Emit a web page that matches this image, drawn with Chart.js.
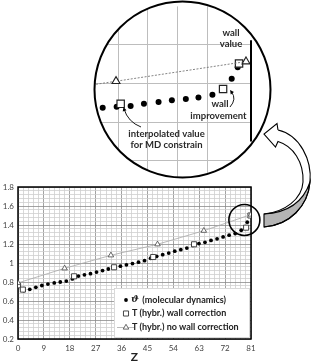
<!DOCTYPE html>
<html lang="en">
<head>
  <meta charset="UTF-8">
  <title>Temperature near the wall</title>
  <script src="https://cdn.jsdelivr.net/npm/chart.js"></script>
  <style>
    body { margin: 0; background: #fff; }
    #wrap { position: relative; width: 313px; height: 363px; }
    #wrap canvas { position: absolute; left: 0; top: 0; }
  </style>
</head>
<body>
<div id="wrap">
  <canvas id="mainChart" width="313" height="363"></canvas>
  <canvas id="insetChart" width="313" height="363"></canvas>
</div>
<script>
  // main chart data
  const mdZ = [2.0, 4.1, 6.2, 8.3, 10.4, 12.6, 14.7, 16.8, 18.9, 21.0, 23.1, 25.2, 27.3, 29.4, 31.4, 33.5, 35.6, 37.7, 39.8,
    41.9, 44.0, 46.1, 48.2, 50.3, 52.4, 54.5, 56.6, 58.7, 60.8, 62.9, 65.0, 67.1, 69.2, 71.3, 73.4, 75.5, 77.6, 79.7]
  const mdV = [0.71, 0.723, 0.744, 0.763, 0.778, 0.79, 0.80, 0.81, 0.832, 0.862, 0.876, 0.888, 0.905, 0.92, 0.937, 0.952, 0.967, 0.981, 0.994,
    1.009, 1.025, 1.05, 1.07, 1.088, 1.105, 1.125, 1.14, 1.157, 1.185, 1.205, 1.218, 1.238, 1.255, 1.275, 1.293, 1.31, 1.345, 1.43]
  const wallZ = [0, 1.7, 19.5, 33.4, 47.0, 61.2, 79.3, 80.8]
  const wallV = [0.765, 0.72, 0.86, 0.955, 1.063, 1.197, 1.372, 1.50]
  const noWallZ = [0, 16.2, 32.3, 48.5, 64.6, 81]
  const noWallV = [0.79, 0.944, 1.081, 1.197, 1.34, 1.51]
  const seriesNames = ["\u03D1 (molecular dynamics)", "T (hybr.) wall correction", "T (hybr.) no wall correction"]

  // magnified sketch near the wall
  const insetMdZ = [56.6, 58.7, 60.8, 62.9, 64.9, 67.1, 69.1, 71.2, 73.1, 75.2, 78.1, 79.0]
  const insetMdV = [1.385, 1.3875, 1.39, 1.392, 1.3975, 1.4025, 1.407, 1.41, 1.414, 1.421, 1.4625, 1.492]
  const insetWallZ = [61.4, 76.8, 79.2]
  const insetWallV = [1.3975, 1.436, 1.502]
  const insetNoWallZ = [44.7, 60.7, 80.25]
  const insetNoWallV = [1.414, 1.456, 1.507]
  const insetGridZ = [61, 65.5, 70, 74.5]
  const insetGridV = [1.25, 1.35, 1.45, 1.55]

  Chart.defaults.font.family = "Lato"

  const pairs = (xs, ys) => xs.map((x, i) => ({ x: x, y: ys[i] }))
  const isMajor = (v, step) => Math.abs(v / step - Math.round(v / step)) < 1e-6

  function arrowHead(c, x, y, ang, size) {
    c.beginPath()
    c.moveTo(x, y)
    c.lineTo(x - size * Math.cos(ang - 0.45), y - size * Math.sin(ang - 0.45))
    c.lineTo(x - size * Math.cos(ang + 0.45), y - size * Math.sin(ang + 0.45))
    c.closePath()
    c.fill()
  }

  const frameAndLegend = {
    id: "frameAndLegend",
    beforeDatasetsDraw(chart) {
      const { ctx, chartArea: a } = chart
      ctx.save()
      ctx.strokeStyle = "#000"
      ctx.lineWidth = 1.5
      ctx.strokeRect(a.left, a.top, a.right - a.left, a.bottom - a.top)
      ctx.restore()
    },
    afterDatasetsDraw(chart) {
      const { ctx, chartArea: a } = chart
      ctx.save()
      // legend box
      const bx = 114, by = 288
      ctx.fillStyle = "#fff"
      ctx.fillRect(bx, by, a.right - bx - 1, a.bottom - by - 1)
      ctx.strokeStyle = "#d0d0d0"
      ctx.lineWidth = 0.8
      ctx.strokeRect(bx + 0.5, by + 0.5, a.right - bx - 2, a.bottom - by - 2)
      const rows = [300, 313.5, 327.5]
      const mx = 126
      chart.data.datasets.forEach((ds, i) => {
        const y = rows[i]
        if (ds.showLine) {
          ctx.strokeStyle = ds.borderColor
          ctx.lineWidth = ds.borderWidth
          ctx.beginPath(); ctx.moveTo(117, y); ctx.lineTo(134, y); ctx.stroke()
        }
        ctx.fillStyle = ds.backgroundColor
        ctx.strokeStyle = ds.pointBorderColor || ds.borderColor
        ctx.lineWidth = ds.pointBorderWidth || 0
        Chart.helpers.drawPoint(ctx, {
          pointStyle: ds.pointStyle, radius: ds.pointRadius, borderWidth: ds.pointBorderWidth || 0, rotation: 0
        }, mx, y)
        ctx.fillStyle = "#222"
        ctx.textBaseline = "middle"
        if (i === 0) {
          ctx.font = "italic bold 9.5px 'DejaVu Serif'"
          const sym = ds.label.slice(0, 1)
          ctx.fillText(sym, 131, y)
          const w = ctx.measureText(sym).width
          ctx.font = "bold 9px Lato"
          ctx.fillText(ds.label.slice(1), 131 + w + 1, y)
        } else {
          ctx.font = "bold 9px Lato"
          ctx.fillText(ds.label, 132, y)
        }
      })
      ctx.restore()
    },
    afterDraw(chart) {
      const { ctx } = chart
      const xs = chart.scales.x, ys = chart.scales.y
      ctx.save()
      // circle round the wall region
      ctx.strokeStyle = "#000"
      ctx.lineWidth = 1.6
      ctx.beginPath()
      ctx.arc(xs.getPixelForValue(78.7), ys.getPixelForValue(1.453), 15.5, 0, Math.PI * 2)
      ctx.stroke()
      // big curved arrow to the magnified view
      ctx.lineWidth = 1.1
      ctx.beginPath()
      ctx.moveTo(278, 130)
      ctx.bezierCurveTo(300, 135, 312, 160, 310, 182)
      ctx.bezierCurveTo(308, 206, 290, 225, 264, 227)
      ctx.lineTo(264, 214)
      ctx.bezierCurveTo(285, 212, 302, 199, 303, 182)
      ctx.bezierCurveTo(304, 162, 293, 146, 278, 141.5)
      ctx.lineTo(275.5, 147)
      ctx.lineTo(264, 134)
      ctx.lineTo(277, 123.5)
      ctx.closePath()
      ctx.fillStyle = "#fff"
      ctx.fill()
      ctx.save()
      ctx.beginPath()
      ctx.moveTo(264, 214)
      ctx.quadraticCurveTo(300, 212, 310, 182)
      ctx.bezierCurveTo(308, 206, 290, 225, 264, 227)
      ctx.closePath()
      ctx.fillStyle = "#b4b4b4"
      ctx.fill()
      ctx.stroke()
      ctx.restore()
      ctx.beginPath()
      ctx.moveTo(278, 130)
      ctx.bezierCurveTo(300, 135, 312, 160, 310, 182)
      ctx.bezierCurveTo(308, 206, 290, 225, 264, 227)
      ctx.moveTo(264, 214)
      ctx.bezierCurveTo(285, 212, 302, 199, 303, 182)
      ctx.bezierCurveTo(304, 162, 293, 146, 278, 141.5)
      ctx.lineTo(275.5, 147)
      ctx.lineTo(264, 134)
      ctx.lineTo(277, 123.5)
      ctx.lineTo(278, 130)
      ctx.stroke()
      ctx.restore()
    }
  }

  const mainChart = new Chart(document.getElementById("mainChart"), {
    type: "scatter",
    data: {
      datasets: [{
        label: seriesNames[0],
        data: pairs(mdZ, mdV),
        pointStyle: "circle",
        pointRadius: 1.9,
        backgroundColor: "#000",
        borderColor: "#000",
        pointBorderWidth: 0,
        borderWidth: 0,
        order: 3
      }, {
        label: seriesNames[1],
        data: pairs(wallZ, wallV),
        pointStyle: "rect",
        pointRadius: 3.6,
        backgroundColor: "#fff",
        borderColor: "#333",
        pointBorderWidth: 0.9,
        order: 2
      }, {
        label: seriesNames[2],
        data: pairs(noWallZ, noWallV),
        showLine: true,
        pointStyle: "triangle",
        pointRadius: 3.2,
        backgroundColor: "#fff",
        borderColor: "#a8a8a8",
        borderWidth: 0.8,
        pointBorderColor: "#444",
        pointBorderWidth: 0.8,
        order: 1
      }]
    },
    options: {
      responsive: false,
      animation: false,
      devicePixelRatio: 1,
      layout: { padding: { top: 187, right: 62, left: 0, bottom: 0 } },
      plugins: { legend: { display: false }, tooltip: { enabled: false } },
      scales: {
        x: {
          type: "linear",
          min: 0,
          max: 81,
          afterFit: (s) => { s.height = 24 },
          ticks: {
            stepSize: 1.8,
            autoSkip: false,
            maxRotation: 0,
            padding: 5,
            color: "#444",
            font: { size: 8 },
            callback: (v) => isMajor(v, 9) ? String(Math.round(v)) : ""
          },
          grid: {
            drawTicks: false,
            lineWidth: 0.8,
            color: (c) => c.tick && isMajor(c.tick.value, 9) ? "#8c8c8c" : "#cfcfcf"
          },
          border: { display: false },
          title: { display: true, text: "Z", color: "#222", padding: 0, font: { size: 12, weight: "bold", lineHeight: 1 } }
        },
        y: {
          min: 0.2,
          max: 1.8,
          afterFit: (s) => { s.width = 18 },
          ticks: {
            stepSize: 0.04,
            autoSkip: false,
            padding: 4,
            color: "#444",
            font: { size: 8 },
            callback: (v) => isMajor(v, 0.2) ? String(Number(v.toFixed(1))) : ""
          },
          grid: {
            drawTicks: false,
            lineWidth: 0.8,
            color: (c) => c.tick && isMajor(c.tick.value, 0.2) ? "#8c8c8c" : "#cfcfcf"
          },
          border: { display: false }
        }
      }
    },
    plugins: [frameAndLegend]
  })

  // magnified view, clipped to a circle
  const circ = { x: 182.5, y: 89.5, r: 88 }
  const circleClip = {
    id: "circleClip",
    beforeDraw(chart) {
      const c = chart.ctx
      c.save()
      c.beginPath()
      c.arc(circ.x, circ.y, circ.r, 0, Math.PI * 2)
      c.fillStyle = "#fff"
      c.fill()
      c.clip()
    },
    afterDraw(chart) {
      const c = chart.ctx
      const xs = chart.scales.x, ys = chart.scales.y
      c.restore()
      c.save()
      // wall
      c.strokeStyle = "#000"
      c.lineWidth = 2
      const wx = xs.getPixelForValue(81)
      c.beginPath()
      c.moveTo(wx, ys.getPixelForValue(1.5625))
      c.lineTo(wx, ys.getPixelForValue(1.30))
      c.stroke()
      // circle outline
      c.lineWidth = 2
      c.beginPath()
      c.arc(circ.x, circ.y, circ.r, 0, Math.PI * 2)
      c.stroke()
      // notes
      c.fillStyle = "#2a2a2a"
      c.font = "bold 9.5px Lato"
      c.textAlign = "center"
      c.textBaseline = "middle"
      c.fillText("wall", 231, 32.5)
      c.fillText("value", 231, 43.5)
      c.fillText("wall", 220, 103.5)
      c.fillText("improvement", 218.5, 115.5)
      c.fillText("interpolated value", 166.5, 133.5)
      c.fillText("for MD constrain", 166.5, 145)
      // pointers
      c.lineWidth = 0.9
      c.fillStyle = "#000"
      c.beginPath()
      c.moveTo(141, 127)
      c.quadraticCurveTo(128, 122, 124, 109)
      c.stroke()
      arrowHead(c, 123.5, 107, -1.85, 4.5)
      c.beginPath()
      c.moveTo(230, 107)
      c.quadraticCurveTo(237, 99, 231.5, 92)
      c.stroke()
      arrowHead(c, 230, 90, -2.2, 4.5)
      c.restore()
    }
  }

  const insetChart = new Chart(document.getElementById("insetChart"), {
    type: "scatter",
    data: {
      datasets: [{
        data: pairs(insetMdZ, insetMdV),
        pointStyle: "circle",
        pointRadius: 3,
        backgroundColor: "#000",
        borderColor: "#000",
        pointBorderWidth: 0,
        order: 3
      }, {
        data: pairs(insetWallZ, insetWallV),
        pointStyle: "rect",
        pointRadius: 5.2,
        backgroundColor: "#fff",
        borderColor: "#222",
        pointBorderWidth: 1.2,
        order: 2
      }, {
        data: pairs(insetNoWallZ, insetNoWallV),
        showLine: true,
        pointStyle: "triangle",
        pointRadius: 4.6,
        backgroundColor: "#fff",
        borderColor: "#777",
        borderWidth: 0.9,
        borderDash: [2, 1.5],
        pointBorderColor: "#222",
        pointBorderWidth: 1.1,
        order: 1
      }]
    },
    options: {
      responsive: false,
      animation: false,
      devicePixelRatio: 1,
      layout: { padding: { top: 0, right: 62, left: 58.15, bottom: 183 } },
      plugins: { legend: { display: false }, tooltip: { enabled: false } },
      scales: {
        x: {
          type: "linear",
          min: 52,
          max: 81,
          afterFit: (s) => { s.height = 0 },
          afterBuildTicks: (s) => { s.ticks = insetGridZ.map((v) => ({ value: v })) },
          ticks: { display: false },
          grid: { drawTicks: false, color: "#bdbdbd", lineWidth: 1 },
          border: { display: false }
        },
        y: {
          min: 1.2,
          max: 1.65,
          afterFit: (s) => { s.width = 0 },
          afterBuildTicks: (s) => { s.ticks = insetGridV.map((v) => ({ value: v })) },
          ticks: { display: false },
          grid: { drawTicks: false, color: "#bdbdbd", lineWidth: 1 },
          border: { display: false }
        }
      }
    },
    plugins: [circleClip]
  })
</script>
</body>
</html>
